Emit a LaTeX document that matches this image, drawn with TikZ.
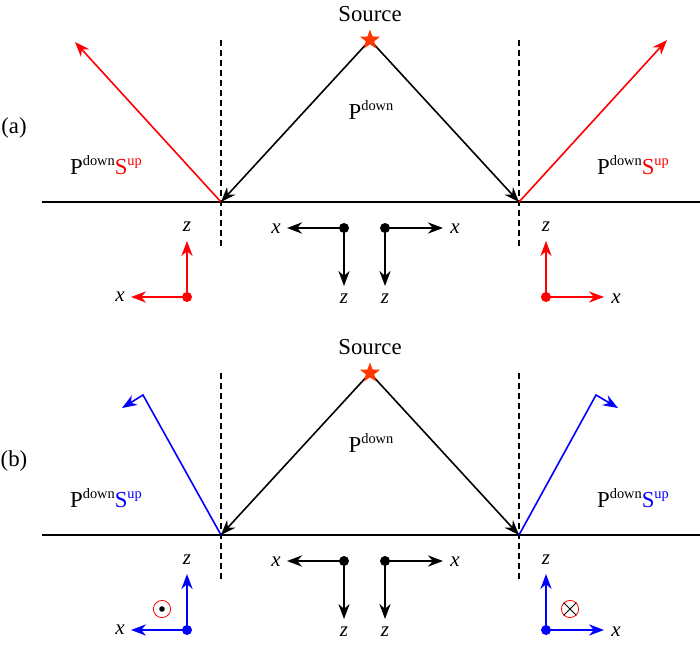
\documentclass[tikz,border=0pt]{standalone}
\usepackage{fontspec}
\setmainfont{Liberation Serif}
\usetikzlibrary{arrows.meta,shapes.geometric}
\definecolor{starc}{RGB}{255,55,0}
\definecolor{pblue}{RGB}{0,0,255}
\definecolor{pred}{RGB}{255,0,0}
\newcommand\supr[1]{\raisebox{0.42em}{\fontsize{7.2}{8}\selectfont #1}}
\begin{document}
\begin{tikzpicture}[x=0.5pt,y=-0.5pt,
  txt/.style={inner sep=0pt, font=\fontsize{11.4}{13}\selectfont},
  axl/.style={inner sep=0pt, font=\fontsize{10.5}{12}\selectfont\itshape},
  ray/.style={line width=0.8pt, -{Stealth[length=7.5pt,width=5.6pt,inset=2.4pt]}},
  axarr/.style={line width=0.8pt, -{Stealth[length=7.5pt,width=5.6pt,inset=2.4pt]}},
  dashln/.style={line width=0.6pt, dash pattern=on 3pt off 2pt},
  dotn/.style={circle, fill, inner sep=0pt, minimum size=5pt},
  starn/.style={star, star points=5, star point ratio=2.4, fill=starc, inner sep=0pt, minimum size=10.5pt},
  ringn/.style={circle, draw=pred, line width=0.4pt, inner sep=0pt, minimum size=8.6pt}]
\useasboundingbox (0,0) rectangle (700,646);
\foreach \p/\dy/\col in {a/0/pred,b/333/pblue}{
\begin{scope}[shift={(0,\dy)}]
  \node[txt] (src\p) at (370,14) {Source};
  \coordinate (sc\p) at (370,40);
  \coordinate (L\p) at (221,202);
  \coordinate (R\p) at (519,202);
  \coordinate (h1\p) at (42,202);
  \coordinate (h2\p) at (700,202);
  \coordinate (dla\p) at (221,40);
  \coordinate (dlb\p) at (221,246);
  \coordinate (dra\p) at (519,40);
  \coordinate (drb\p) at (519,246);
  \draw[dashln] (dla\p) -- (dlb\p);
  \draw[dashln] (dra\p) -- (drb\p);
  \draw[line width=0.8pt] (h1\p) -- (h2\p);
  \draw[ray] (sc\p) -- (L\p);
  \draw[ray] (sc\p) -- (R\p);
  \node[starn] (s\p) at (sc\p) {};
  \node[txt] (pd\p) at (371,110) {P\supr{down}};
  \node[txt] (lab\p) at (14,128) {(\p)};
  \node[txt] (psl\p) at (106,165) {P\supr{down}\textcolor{\col}{S\supr{up}}};
  \node[txt] (psr\p) at (633,165) {P\supr{down}\textcolor{\col}{S\supr{up}}};
  % centre black axes
  \node[dotn] (oc1\p) at (344,228) {};
  \coordinate (xc1\p) at (287,228);
  \coordinate (zc1\p) at (344,286);
  \draw[axarr] (oc1\p.center) -- (xc1\p);
  \draw[axarr] (oc1\p.center) -- (zc1\p);
  \node[axl] (xl1\p) at (276,229) {x};
  \node[axl] (zl1\p) at (344,299) {z};
  \node[dotn] (oc2\p) at (385,228) {};
  \coordinate (xc2\p) at (443,228);
  \coordinate (zc2\p) at (385,286);
  \draw[axarr] (oc2\p.center) -- (xc2\p);
  \draw[axarr] (oc2\p.center) -- (zc2\p);
  \node[axl] (xl2\p) at (455,229) {x};
  \node[axl] (zl2\p) at (385,299) {z};
  % coloured axes
  \node[dotn, fill=\col] (ol\p) at (187,297) {};
  \coordinate (xl\p) at (131,297);
  \coordinate (zl\p) at (187,241);
  \draw[axarr, draw=\col, fill=\col] (ol\p.center) -- (xl\p);
  \draw[axarr, draw=\col, fill=\col] (ol\p.center) -- (zl\p);
  \node[axl] (xtl\p) at (120,297) {x};
  \node[axl] (ztl\p) at (187,227) {z};
  \node[dotn, fill=\col] (or\p) at (546,297) {};
  \coordinate (xr\p) at (604,297);
  \coordinate (zr\p) at (546,241);
  \draw[axarr, draw=\col, fill=\col] (or\p.center) -- (xr\p);
  \draw[axarr, draw=\col, fill=\col] (or\p.center) -- (zr\p);
  \node[axl] (xtr\p) at (616,299) {x};
  \node[axl] (ztr\p) at (546,227) {z};
\end{scope}
}
% panel (a): red up-going rays
\coordinate (ta1) at (75,42);
\coordinate (ta2) at (667,40);
\draw[ray, pred] (La) -- (ta1);
\draw[ray, pred] (Ra) -- (ta2);
% panel (b): blue up-going rays with a kink
\coordinate (cb1) at (143,395);
\coordinate (tb1) at (122,408);
\coordinate (cb2) at (596,395);
\coordinate (tb2) at (618,408);
\draw[ray, pblue, line join=miter] (Lb) -- (cb1) -- (tb1);
\draw[ray, pblue, line join=miter] (Rb) -- (cb2) -- (tb2);
% out-of-plane symbols
\node[ringn] (dotsym) at (162,609) {};
\node[circle, fill=black, inner sep=0pt, minimum size=2.8pt] (dotc) at (dotsym.center) {};
\node[ringn] (crsym) at (570,609) {};
\draw[line width=0.45pt] (crsym.45) -- (crsym.225);
\draw[line width=0.45pt] (crsym.135) -- (crsym.315);
\end{tikzpicture}
\end{document}
